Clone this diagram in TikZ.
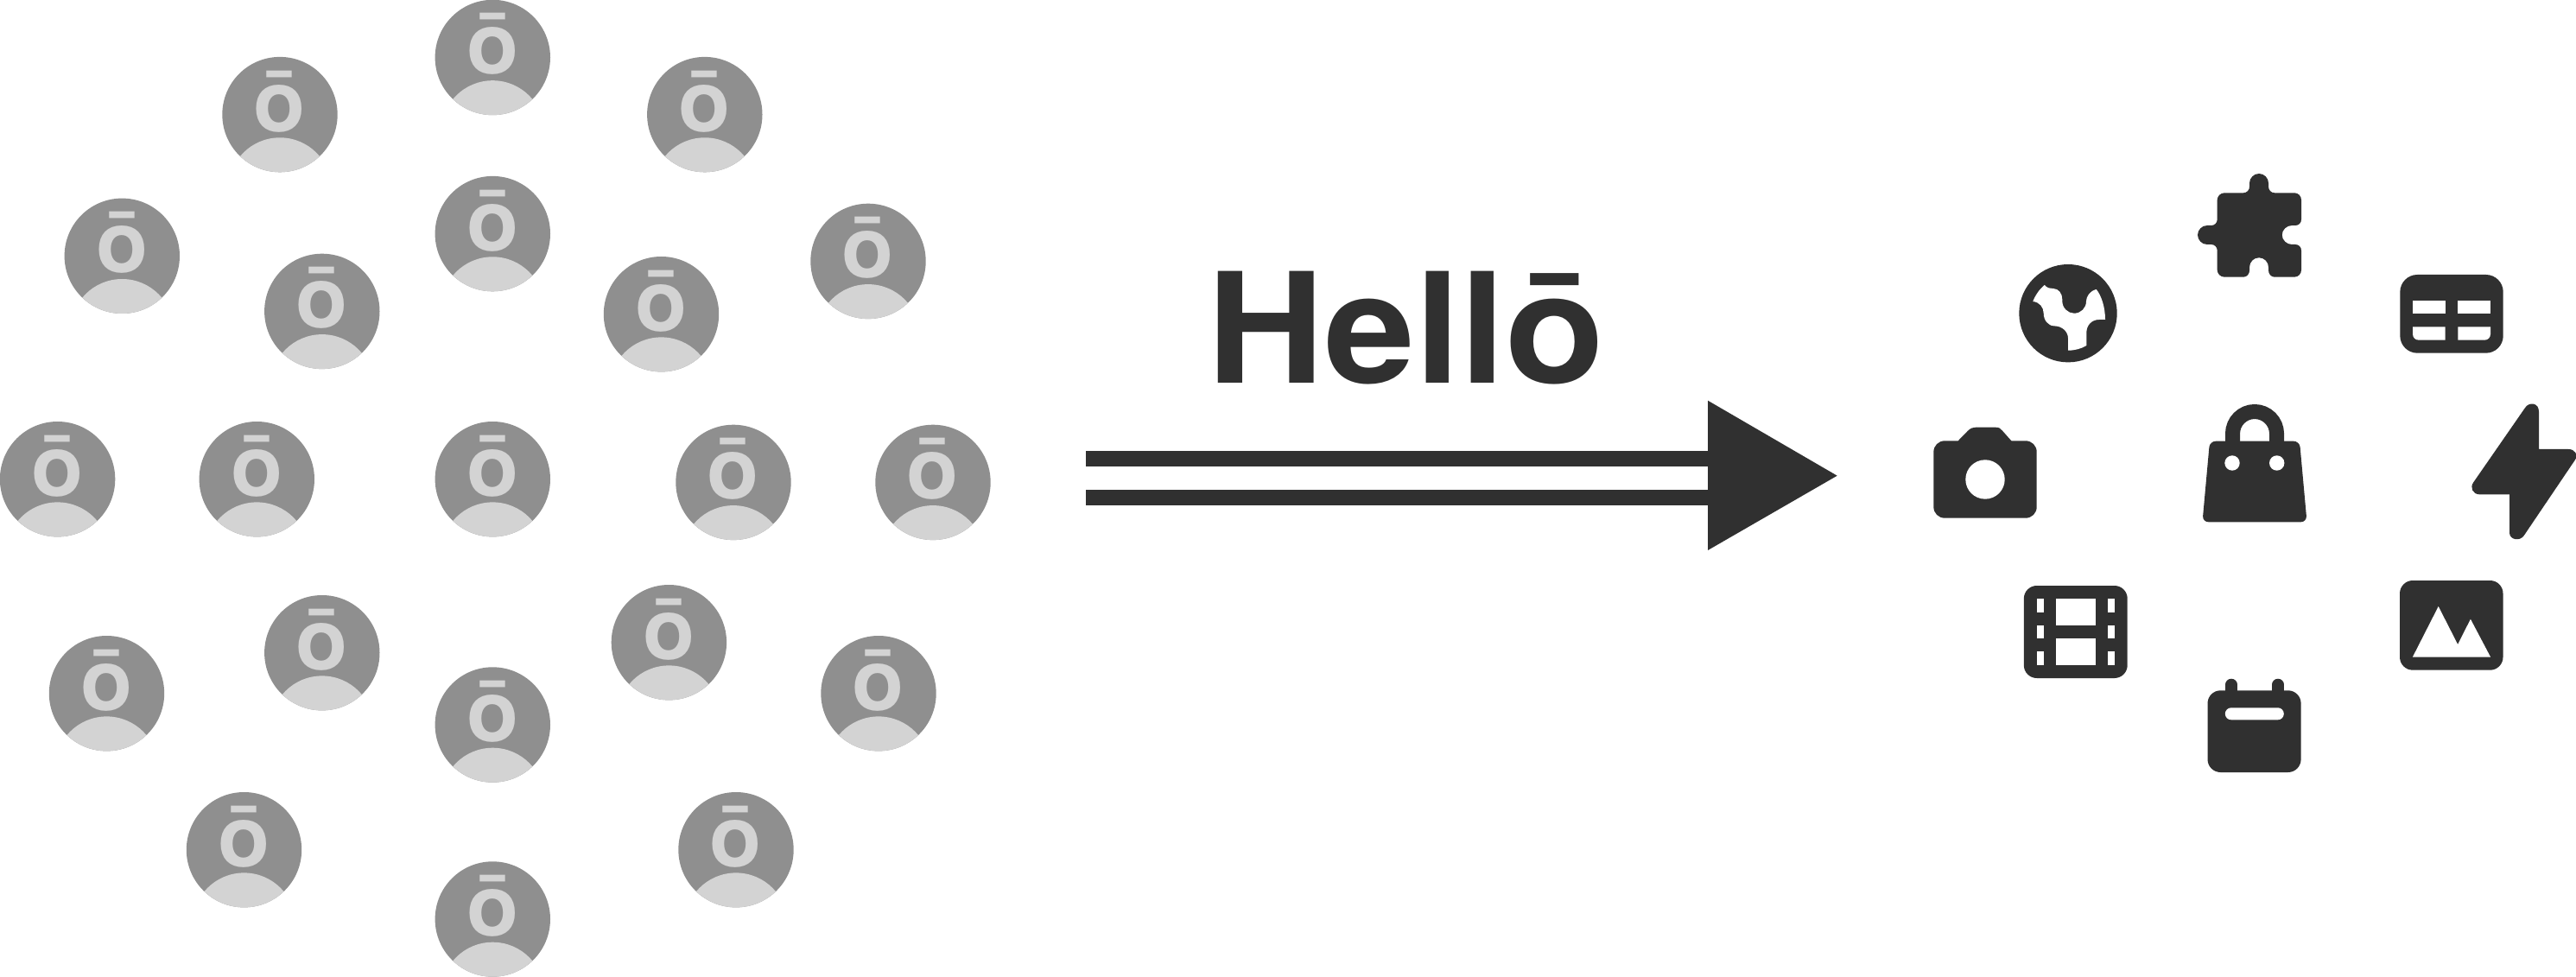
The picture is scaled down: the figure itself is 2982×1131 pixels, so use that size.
\documentclass[tikz,border=0pt]{standalone}
\usepackage{fontspec}
\setmainfont{TeX Gyre Heros}
\newfontfamily\titlefont[FakeStretch=1.06]{TeX Gyre Heros}
\definecolor{darkicon}{HTML}{303030}
\definecolor{avatarbg}{HTML}{8F8F8F}
\definecolor{avatarfg}{HTML}{D3D3D3}
\begin{document}
\begin{tikzpicture}[x=0.1mm,y=-0.1mm,
	avatartext/.style={text=avatarfg,font=\fontsize{28}{28}\selectfont\bfseries,anchor=base,inner sep=0pt},
	icon/.style={fill=darkicon,draw=none},
	hole/.style={fill=white,draw=none},
	shaft/.style={line width=1.8mm,draw=darkicon}]
	\useasboundingbox (0,0) rectangle (2982,1131);
	% the crowd on the left
	\foreach \ux/\uy [count=\i] in {570.3/66.5,324/132.6,815.8/132.6,141.3/296.3,570.3/270.6,372.8/360.4,765.5/363.7,1005/302.4,66.6/554.7,297.3/554.7,570.3/554.7,849/558.4,1080/558.4,123.5/802.7,372.8/755.7,570.3/839,774.4/743.7,1017/802.7,282.5/983.7,570.3/1064,852/983.7}{
		\fill[avatarbg] (\ux,\uy) circle (66.7);
		\begin{scope}
			\clip (\ux,\uy) circle (66.7);
			\fill[avatarfg] (\ux,\uy+86.5) circle (59.8);
		\end{scope}
		\node[avatartext] (user\i) at (\ux,\uy+19.5) {ō};
	}
	% title and arrow
	\node[text=darkicon,font=\fontsize{50.5}{50.5}\titlefont\bfseries,anchor=base west,inner sep=0pt] (hello) at (1397,443.7) {Hellō};
	\coordinate (upperstart) at (1257,531);
	\coordinate (upperend) at (1985,531);
	\coordinate (lowerstart) at (1257,576);
	\coordinate (lowerend) at (1985,576);
	\draw[shaft] (upperstart)--(upperend);
	\draw[shaft] (lowerstart)--(lowerend);
	\fill[icon] (1977,463.7)--(2126.7,550.7)--(1977,637)--cycle;
	% puzzle
	\fill[icon] (2575,223.3)--(2597,223.3) .. controls (2601,223.3) and (2604,220) .. (2604,216)--(2604,212) .. controls (2604,206) and (2609,201) .. (2615,201) .. controls (2621,201) and (2626,206) .. (2626,212)--(2626,216) .. controls (2626,220) and (2629,223.3) .. (2633,223.3)--(2656,223.3) .. controls (2660.5,223.3) and (2664,227) .. (2664,231.5)--(2664,254) .. controls (2664,258) and (2661,261) .. (2657,261)--(2653,261) .. controls (2647,261) and (2641.7,266) .. (2641.7,272) .. controls (2641.7,278) and (2647,283) .. (2653,283)--(2657,283) .. controls (2661,283) and (2664,286) .. (2664,290)--(2664,312.5) .. controls (2664,317) and (2660.5,320.7) .. (2656,320.7)--(2633,320.7) .. controls (2629,320.7) and (2626,317) .. (2626,313)--(2626,309.5) .. controls (2626,303) and (2621,298.3) .. (2615,298.3) .. controls (2609,298.3) and (2604,303) .. (2604,309.5)--(2604,313) .. controls (2604,317) and (2601,320.7) .. (2597,320.7)--(2575,320.7) .. controls (2570.5,320.7) and (2566.7,317) .. (2566.7,312.5)--(2566.7,290) .. controls (2566.7,286) and (2563.5,283) .. (2560,283)--(2555,283) .. controls (2549,283) and (2544,278) .. (2544,272) .. controls (2544,266) and (2549,261) .. (2555,261)--(2560,261) .. controls (2563.5,261) and (2566.7,258) .. (2566.7,254)--(2566.7,231.5) .. controls (2566.7,227) and (2570.5,223.3) .. (2575,223.3)--cycle;
	% globe
	\begin{scope}[shift={(2394,362.7)}]
		\fill[icon] (0,0) circle (56.7);
		\fill[hole] (-27.3,-32.7) .. controls (-24,-29) and (-21,-28.7) .. (-17.3,-28.7) .. controls (-11,-28.7) and (-6.7,-23) .. (-6.7,-16)--(-6.7,-14) .. controls (-6.7,-6) and (0,0) .. (7,0) .. controls (15,0) and (21,-6) .. (21,-14) .. controls (21,-19) and (25,-26) .. (32.7,-27.7) .. controls (39,-20) and (43,-6) .. (43,7.3)--(36,7.3) .. controls (27,7.3) and (21.3,14) .. (21.3,22.3)--(21.3,37.3) .. controls (15,41) and (8,43) .. (0,43)--(0,29) .. controls (0,21) and (-7,14.7) .. (-15.7,14.7) .. controls (-23,14.7) and (-28.3,8) .. (-28.3,0) .. controls (-28.3,-7) and (-33,-13) .. (-40.7,-13.7) .. controls (-38,-21) and (-33,-28) .. (-27.3,-32.7)--cycle;
	\end{scope}
	% table
	\fill[icon,rounded corners=2mm] (2778.3,318) rectangle (2897.7,408.7);
	\fill[hole] (2793,348.3) rectangle (2830.7,363.3);
	\fill[hole] (2845.3,348.3) rectangle (2883,363.3);
	\fill[hole] (2793,378.3)--(2830.7,378.3)--(2830.7,393.7)--(2800,393.7) .. controls (2796,393.7) and (2793,390.7) .. (2793,386.7)--cycle;
	\fill[hole] (2845.3,378.3)--(2883,378.3)--(2883,386.7) .. controls (2883,390.7) and (2880,393.7) .. (2876,393.7)--(2845.3,393.7)--cycle;
	% bolt
	\fill[icon] (2923.3,471.7) .. controls (2928,465) and (2939,466) .. (2939,476.7)--(2939,520)--(2973.3,520) .. controls (2981,520) and (2985,527) .. (2980.7,532.7)--(2921.7,620) .. controls (2917,627) and (2905,625) .. (2905,616.7)--(2905,572.3)--(2870,572.3) .. controls (2863,572.3) and (2858.5,564.5) .. (2863.3,558.3)--cycle;
	% camera
	\fill[icon] (2251.3,510.3)--(2266.7,510.3)--(2278,498.7) .. controls (2281,495.7) and (2284,494.7) .. (2287,494.7)--(2310,494.7) .. controls (2314,494.7) and (2316,496) .. (2318,498.7)--(2328.3,510.3)--(2344.7,510.3) .. controls (2352,510.3) and (2357.7,516) .. (2357.7,523.3)--(2357.7,586.7) .. controls (2357.7,594) and (2352,599.7) .. (2344.7,599.7)--(2251.3,599.7) .. controls (2244,599.7) and (2238.3,594) .. (2238.3,586.7)--(2238.3,523.3) .. controls (2238.3,516) and (2244,510.3) .. (2251.3,510.3)--cycle;
	\fill[hole] (2298,555) circle (22.7);
	% bag
	\draw[draw=darkicon,line width=1.7mm] (2584.5,515)--(2584.5,502) arc (180:360:25.5)--(2635.5,515);
	\fill[icon,rounded corners=0.7mm] (2558,510.7)--(2662,510.7)--(2670.5,604.3)--(2549.5,604.3)--cycle;
	\fill[hole] (2584,536) circle (8.7);
	\fill[hole] (2635.7,536) circle (8.7);
	% film
	\fill[icon,rounded corners=1.5mm] (2342.8,678) rectangle (2462.7,785);
	\foreach \rowtop in {693,723.7,754.3}{
		\fill[hole] (2358,\rowtop) rectangle +(7.6,15.5);
		\fill[hole] (2440.3,\rowtop) rectangle +(7.6,15.5);
	}
	\fill[hole] (2380.4,693) rectangle (2425.5,723.7);
	\fill[hole] (2380.4,739) rectangle (2425.5,769.7);
	% calendar
	\draw[draw=darkicon,line width=1.36mm,line cap=round] (2583,792.5)--(2583,805);
	\draw[draw=darkicon,line width=1.36mm,line cap=round] (2637,792.5)--(2637,805);
	\fill[icon,rounded corners=1.5mm] (2555.5,799.3) rectangle (2663.6,894);
	\fill[hole,rounded corners=0.7mm] (2575.8,819.3) rectangle (2643.8,833.3);
	% image
	\fill[icon,rounded corners=1.5mm] (2778,672) rectangle (2897.5,775.7);
	\fill[hole] (2792.8,760.7)--(2822.7,702)--(2845.1,746)--(2859.9,716.7)--(2883.1,760.7)--cycle;
\end{tikzpicture}
\end{document}
